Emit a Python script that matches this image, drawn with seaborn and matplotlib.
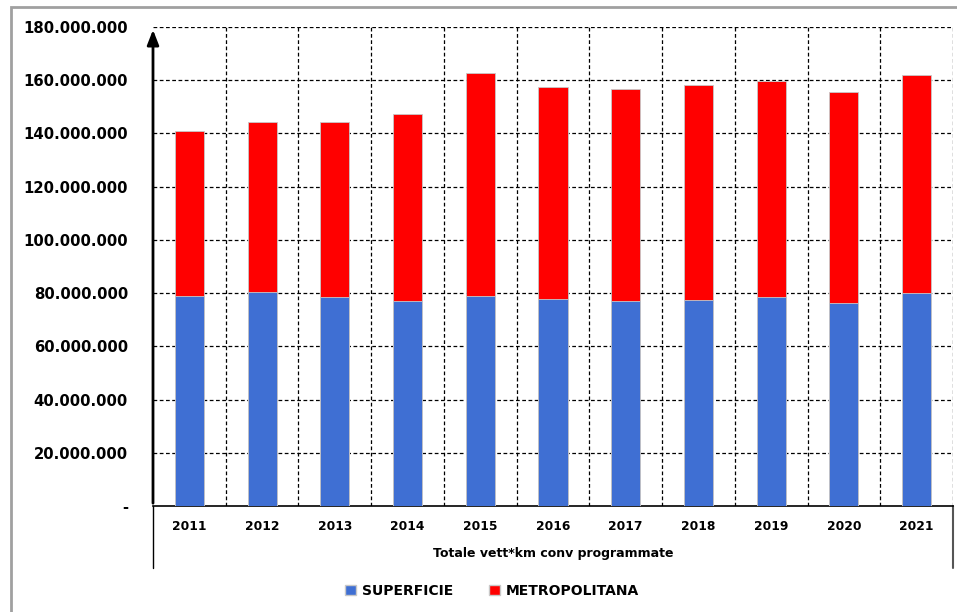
import matplotlib.pyplot as plt
import matplotlib.patches as mpatches
import seaborn as sns
import pandas as pd

anni = ["2011", "2012", "2013", "2014", "2015", "2016", "2017", "2018", "2019", "2020", "2021"]
superficie = [79.1e6, 80.5e6, 78.4e6, 77.0e6, 79.0e6, 77.8e6, 77.0e6, 77.5e6, 78.5e6, 76.3e6, 80.0e6]
metropolitana = [61.8e6, 63.8e6, 65.9e6, 70.3e6, 83.7e6, 79.7e6, 79.7e6, 80.7e6, 81.2e6, 79.3e6, 82.0e6]
y_ticks = [0, 20e6, 40e6, 60e6, 80e6, 100e6, 120e6, 140e6, 160e6, 180e6]

blu = "#3F6FD3"
rosso = "#FF0000"

df = pd.DataFrame({"anno": anni, "superficie": superficie, "metropolitana": metropolitana})
df["totale"] = df["superficie"] + df["metropolitana"]

sns.set_style("white")
plt.rcParams["font.family"] = ["DejaVu Sans"]
plt.rcParams["font.weight"] = "bold"
plt.rcParams["text.color"] = "black"
plt.rcParams["xtick.color"] = "black"
plt.rcParams["ytick.color"] = "black"
plt.rcParams["axes.labelcolor"] = "black"

fig = plt.figure(figsize=(9.57, 6.12), dpi=100)
ax = fig.add_axes([153 / 957, 1 - 506 / 612, (953 - 153) / 957, (506 - 27) / 612])

sns.barplot(data=df, x="anno", y="totale", color=rosso, width=0.4, saturation=1,
            edgecolor="#c8c8c8", linewidth=0.6, ax=ax, zorder=3)
sns.barplot(data=df, x="anno", y="superficie", color=blu, width=0.4, saturation=1,
            edgecolor="#c8c8c8", linewidth=0.6, ax=ax, zorder=3)

ax.set_xlim(-0.5, len(anni) - 0.5)
ax.set_ylim(0, 180e6)
ax.set_yticks(y_ticks)
ax.set_yticklabels(["-" if v == 0 else f"{int(v):,}".replace(",", ".") for v in y_ticks],
                   fontsize=10.7, fontweight="bold")
ax.tick_params(axis="y", length=0, pad=18)
ax.tick_params(axis="x", length=0, pad=10, labelsize=8.8)
for t in ax.get_xticklabels():
    t.set_fontweight("bold")

# dashed grid
for v in y_ticks[1:]:
    ax.axhline(v, color="black", linestyle=(0, (3, 2)), linewidth=0.9, zorder=1)
for k in range(len(anni)):
    ax.axvline(k + 0.5, color="black", linestyle=(0, (3, 2)), linewidth=0.9, zorder=1)

for s in ["top", "right", "left"]:
    ax.spines[s].set_visible(False)
ax.spines["bottom"].set_color("black")
ax.spines["bottom"].set_linewidth(1.2)

# y axis with arrow
ax.annotate("", xy=(0, 1.0), xytext=(0, 0), xycoords="axes fraction",
            arrowprops=dict(arrowstyle="-|>,head_length=0.9,head_width=0.35",
                            color="black", lw=2), zorder=5)

# category box below the axis
drop = 62 / 479
ax.plot([0, 0], [0, -drop], transform=ax.transAxes, color="black", lw=1, clip_on=False)
ax.plot([1, 1], [0, -drop], transform=ax.transAxes, color="#555555", lw=1.5, clip_on=False)

ax.set_xlabel("Totale vett*km conv programmate", fontsize=9, fontweight="bold", labelpad=10)
ax.set_ylabel("")

handles = [mpatches.Patch(facecolor=blu, edgecolor="#c8c8c8", label="SUPERFICIE"),
           mpatches.Patch(facecolor=rosso, edgecolor="#c8c8c8", label="METROPOLITANA")]
fig.legend(handles=handles, loc="center", bbox_to_anchor=(492 / 957, 1 - 591 / 612),
           ncol=2, frameon=False, handlelength=0.8, handleheight=0.8,
           handletextpad=0.4, columnspacing=2.6, prop={"weight": "bold", "size": 10})

# outer frame
fig.patches.append(mpatches.Rectangle((11 / 957, -0.01), 2.0, 1 - 7 / 612 + 0.01,
                                      transform=fig.transFigure, fill=False,
                                      edgecolor="#a0a0a0", linewidth=2))

fig.savefig("out.png", dpi=100)
